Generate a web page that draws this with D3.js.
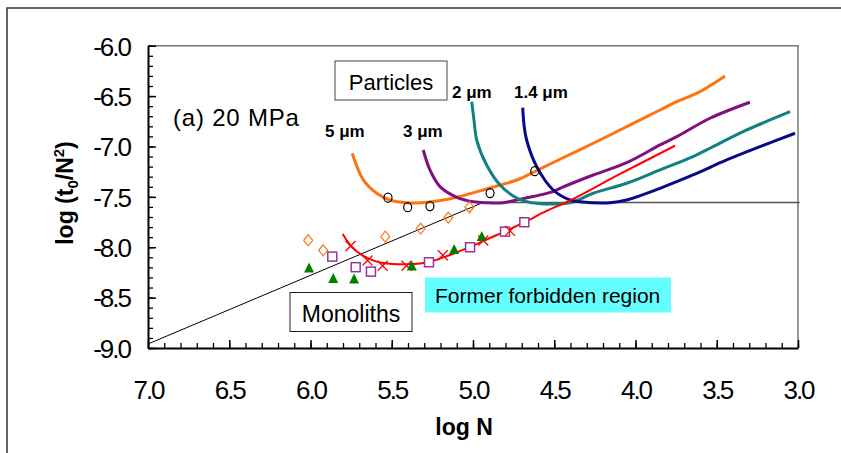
<!DOCTYPE html>
<html><head><meta charset="utf-8">
<script src="https://cdn.jsdelivr.net/npm/d3@7"></script>
<style>
body{margin:0;background:#fff;}
svg{display:block;font-family:"Liberation Sans",Arial,sans-serif;}
</style></head>
<body><svg id="c" width="841" height="453"></svg>
<script>
// ---- data (log N, log(t0/N^2)) ----
const xTickLabels = [7.0, 6.5, 6.0, 5.5, 5.0, 4.5, 4.0, 3.5, 3.0];
const yTickLabels = [-6.0, -6.5, -7.0, -7.5, -8.0, -8.5, -9.0];

const curve5um = [[5.743,-7.067],[5.675,-7.332],[5.593,-7.464],[5.511,-7.531],[5.408,-7.558],[5.265,-7.551],[5.100,-7.504],[4.957,-7.441],[4.854,-7.392],[4.731,-7.333],[4.608,-7.240],[4.465,-7.127],[4.260,-6.968],[4.054,-6.804],[3.849,-6.638],[3.746,-6.556],[3.603,-6.456],[3.449,-6.301]];
const curve3um = [[5.306,-7.035],[5.265,-7.233],[5.203,-7.399],[5.100,-7.504],[4.998,-7.548],[4.916,-7.558],[4.815,-7.558],[4.711,-7.524],[4.508,-7.448],[4.465,-7.415],[4.260,-7.283],[4.054,-7.161],[3.849,-6.985],[3.746,-6.903],[3.542,-6.720],[3.296,-6.561]];
const curve2um = [[5.008,-6.556],[4.994,-6.737],[4.977,-6.936],[4.916,-7.184],[4.834,-7.382],[4.731,-7.511],[4.649,-7.556],[4.403,-7.558],[4.260,-7.464],[4.054,-7.365],[3.849,-7.233],[3.646,-7.101],[3.542,-7.018],[3.338,-6.853],[3.049,-6.655]];
const curve14um = [[4.694,-6.615],[4.686,-6.787],[4.670,-6.936],[4.608,-7.200],[4.506,-7.432],[4.403,-7.531],[4.342,-7.548],[4.157,-7.558],[4.054,-7.531],[3.849,-7.415],[3.646,-7.283],[3.439,-7.134],[3.234,-7.002],[3.018,-6.869]];
const monolithFit = [[5.802,-7.868],[5.747,-7.994],[5.675,-8.086],[5.593,-8.143],[5.498,-8.166],[5.369,-8.166],[5.271,-8.146],[5.142,-8.077],[5.018,-7.997],[4.895,-7.908],[4.803,-7.843],[4.686,-7.754],[4.547,-7.640],[4.403,-7.536],[4.095,-7.273],[3.757,-6.993]];
const boundaryDiag = [[7.0,-8.96],[4.94,-7.557]];
const boundaryFlat = [[4.94,-7.557],[2.99,-7.557]];

const circlesPts = [[5.523,-7.508],[5.402,-7.602],[5.265,-7.592],[4.895,-7.463],[4.620,-7.245]];
const diamondPts = [[6.014,-7.931],[5.922,-8.030],[5.540,-7.895],[5.322,-7.815],[5.152,-7.706],[5.022,-7.603]];
const squarePts = [[5.866,-8.093],[5.722,-8.198],[5.628,-8.242],[5.271,-8.149],[5.018,-8.0],[4.803,-7.845],[4.684,-7.752]];
const crossPts = [[5.753,-7.987],[5.649,-8.131],[5.556,-8.183],[5.409,-8.183],[5.186,-8.079],[4.937,-7.933],[4.772,-7.838]];
const trianglePts = [[6.009,-8.205],[5.860,-8.310],[5.732,-8.315],[5.377,-8.185],[5.116,-8.022],[4.946,-7.893]];

const svg = d3.select("#c");
const x = d3.scaleLinear().domain([7,3]).range([148,798]);
const y = d3.scaleLinear().domain([-9,-6]).range([348,45.7]);
const fmt = d => d.toFixed(1);

// outer frame
svg.append("path").attr("d","M7,453 V8 H841").attr("fill","none").attr("stroke","#333").attr("stroke-width",1.5);

// plot frame top/right
svg.append("path").attr("d",`M${x(7)},${y(-6)} H${x(3)} V${y(-9)}`).attr("fill","none").attr("stroke","#777").attr("stroke-width",1.5);

// axes
const minorX = d3.range(30,71).map(d=>d/10);
const minorY = d3.range(-90,-59).map(d=>d/10);
const gx = svg.append("g").attr("transform",`translate(0,${y(-9)})`);
gx.call(d3.axisBottom(x).tickValues(minorX).tickSizeInner(-5).tickSizeOuter(0).tickFormat(""));
gx.selectAll(".tick line").attr("stroke","#000").attr("stroke-width",1.3);
gx.select(".domain").remove();
const gx2 = svg.append("g").attr("transform",`translate(0,${y(-9)})`);
gx2.call(d3.axisBottom(x).tickValues(xTickLabels).tickSizeInner(-8).tickSizeOuter(0).tickFormat(fmt));
gx2.select(".domain").attr("stroke","#000").attr("stroke-width",2);
gx2.selectAll(".tick line").attr("stroke","#000").attr("stroke-width",1.5);
gx2.selectAll(".tick text").attr("y",51).attr("dy",0).attr("font-size",26).attr("letter-spacing","-2px").attr("fill","#000").attr("font-family","Liberation Sans, Arial");

const gy = svg.append("g").attr("transform",`translate(${x(7)},0)`);
gy.call(d3.axisLeft(y).tickValues(minorY).tickSizeInner(-5).tickSizeOuter(0).tickFormat(""));
gy.selectAll(".tick line").attr("stroke","#000").attr("stroke-width",1.3);
gy.select(".domain").remove();
const gy2 = svg.append("g").attr("transform",`translate(${x(7)},0)`);
gy2.call(d3.axisLeft(y).tickValues(yTickLabels).tickSizeInner(-8).tickSizeOuter(0).tickFormat(fmt));
gy2.select(".domain").attr("stroke","#000").attr("stroke-width",2);
gy2.selectAll(".tick line").attr("stroke","#000").attr("stroke-width",1.5);
gy2.selectAll(".tick text").attr("x",-18).attr("dy","0.36em").attr("font-size",26).attr("letter-spacing","-2px").attr("fill","#000").attr("font-family","Liberation Sans, Arial");

const line = d3.line().x(d=>x(d[0])).y(d=>y(d[1])).curve(d3.curveCatmullRom.alpha(0.5));
const straight = d3.line().x(d=>x(d[0])).y(d=>y(d[1]));

// boundary lines
svg.append("path").attr("d",straight(boundaryDiag)).attr("fill","none").attr("stroke","#000").attr("stroke-width",1);
svg.append("path").attr("d",straight(boundaryFlat)).attr("fill","none").attr("stroke","#555").attr("stroke-width",1.5);

// particle curves
const curves = [[curve5um,"#ff7410"],[curve3um,"#80107f"],[curve2um,"#108080"],[curve14um,"#0a0a88"]];
curves.forEach(([d,c])=>svg.append("path").attr("d",line(d)).attr("fill","none").attr("stroke",c).attr("stroke-width",3).attr("stroke-linejoin","round"));
svg.append("path").attr("d",line(monolithFit)).attr("fill","none").attr("stroke","#ff0000").attr("stroke-width",2);

// markers
svg.selectAll(".circ").data(circlesPts).join("ellipse").attr("cx",d=>x(d[0])).attr("cy",d=>y(d[1])).attr("rx",4).attr("ry",4.5).attr("fill","none").attr("stroke","#000").attr("stroke-width",1.2);
svg.selectAll(".dia").data(diamondPts).join("path").attr("d",d=>{const cx=x(d[0]),cy=y(d[1]);return `M${cx},${cy-5.5}L${cx+4.5},${cy}L${cx},${cy+5.5}L${cx-4.5},${cy}Z`;}).attr("fill","none").attr("stroke","#ff7410").attr("stroke-width",1.2);
svg.selectAll(".sq").data(squarePts).join("rect").attr("x",d=>x(d[0])-4.5).attr("y",d=>y(d[1])-4.5).attr("width",9).attr("height",9).attr("fill","#fff").attr("stroke","#993399").attr("stroke-width",1.5);
svg.selectAll(".cr").data(crossPts).join("path").attr("d",d=>{const cx=x(d[0]),cy=y(d[1]);return `M${cx-5},${cy-5}L${cx+5},${cy+5}M${cx-5},${cy+5}L${cx+5},${cy-5}`;}).attr("stroke","#ff0000").attr("stroke-width",1.3);
svg.selectAll(".tri").data(trianglePts).join("path").attr("d",d=>{const cx=x(d[0]),cy=y(d[1]);return `M${cx},${cy-5.5}L${cx+5},${cy+4.5}L${cx-5},${cy+4.5}Z`;}).attr("fill","#008000");

// annotations
svg.append("text").attr("x",173).attr("y",125.5).attr("font-size",24).attr("letter-spacing","0.8px").text("(a) 20 MPa");
svg.append("rect").attr("x",335).attr("y",61).attr("width",112).attr("height",39).attr("fill","#fff").attr("stroke","#444").attr("stroke-width",1);
svg.append("text").attr("x",391).attr("y",89.5).attr("text-anchor","middle").attr("font-size",22).text("Particles");
svg.append("rect").attr("x",290).attr("y",292.5).attr("width",122).attr("height",39).attr("fill","#fff").attr("stroke","#222").attr("stroke-width",1);
svg.append("text").attr("x",351).attr("y",322).attr("text-anchor","middle").attr("font-size",23).text("Monoliths");
svg.append("rect").attr("x",425).attr("y",277.5).attr("width",246).attr("height",35).attr("fill","#66ffff");
svg.append("text").attr("x",435).attr("y",302.5).attr("font-size",21).text("Former forbidden region");

const sizeLabels = [["5 μm",325,137],["3 μm",403,137],["2 μm",452,98],["1.4 μm",514,98]];
sizeLabels.forEach(([t,px,py])=>svg.append("text").attr("x",px).attr("y",py).attr("font-size",17).attr("font-weight","bold").text(t));

// axis titles
svg.append("text").attr("x",464).attr("y",435).attr("text-anchor","middle").attr("font-size",23).attr("font-weight","bold").text("log N");
const yt = svg.append("text").attr("transform","translate(73,193) rotate(-90)").attr("text-anchor","middle").attr("font-size",23).attr("font-weight","bold");
yt.append("tspan").text("log (t");
yt.append("tspan").attr("font-size",15).attr("dy",5).text("0");
yt.append("tspan").attr("dy",-5).text("/N");
yt.append("tspan").attr("font-size",15).attr("dy",-9).text("2");
yt.append("tspan").attr("dy",9).text(")");
</script></body></html>
